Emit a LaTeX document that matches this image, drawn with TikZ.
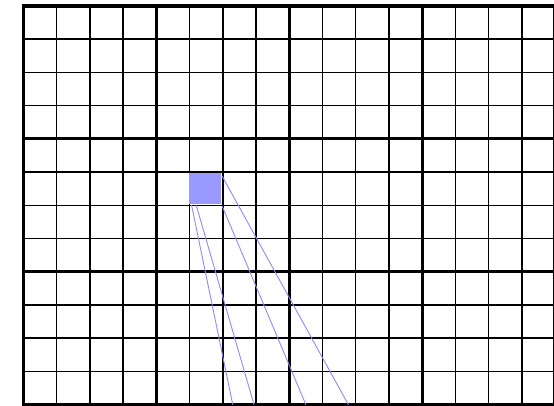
\documentclass[tikz,border=0pt]{standalone}
\definecolor{pixelblue}{RGB}{153,153,255}
\definecolor{rayblue}{RGB}{140,140,255}
\begin{document}
\begin{tikzpicture}[x=33.22pt,y=-33.22pt,
  gridthin/.style={line width=1.5pt,line cap=rect},
  gridthick/.style={line width=3.2pt,line cap=rect},
  pixelcell/.style={fill=pixelblue},
  ray/.style={draw=rayblue,line width=.9pt}]
  \fill[white] (-.707,-.181) rectangle (15.97,12.04);
  \useasboundingbox (-.707,-.181) rectangle (15.97,12.04);
  \clip (-.707,-.181) rectangle (15.97,12.04);
  \foreach \i in {0,...,16} \draw[gridthin] (\i,0) -- (\i,12);
  \foreach \j in {0,...,12} \draw[gridthin] (0,\j) -- (16,\j);
  \foreach \i in {0,4,...,16} \draw[gridthick] (\i,0) -- (\i,12);
  \foreach \j in {0,4,...,12} \draw[gridthick] (0,\j) -- (16,\j);
  % the highlighted cell sits a little inside its grid lines
  \fill[pixelcell] (4.98,5.03) rectangle (5.96,5.95);
  \coordinate (rayA0) at (5.06,6);
  \coordinate (rayA1) at (6.30,12);
  \coordinate (rayB0) at (5.20,6);
  \coordinate (rayB1) at (6.94,12);
  \coordinate (rayC0) at (5.98,6.02);
  \coordinate (rayC1) at (8.50,12);
  \coordinate (rayD0) at (5.98,5.12);
  \coordinate (rayD1) at (9.78,12);
  \draw[ray] (rayA0) -- (rayA1);
  \draw[ray] (rayB0) -- (rayB1);
  \draw[ray] (rayC0) -- (rayC1);
  \draw[ray] (rayD0) -- (rayD1);
\end{tikzpicture}
\end{document}
